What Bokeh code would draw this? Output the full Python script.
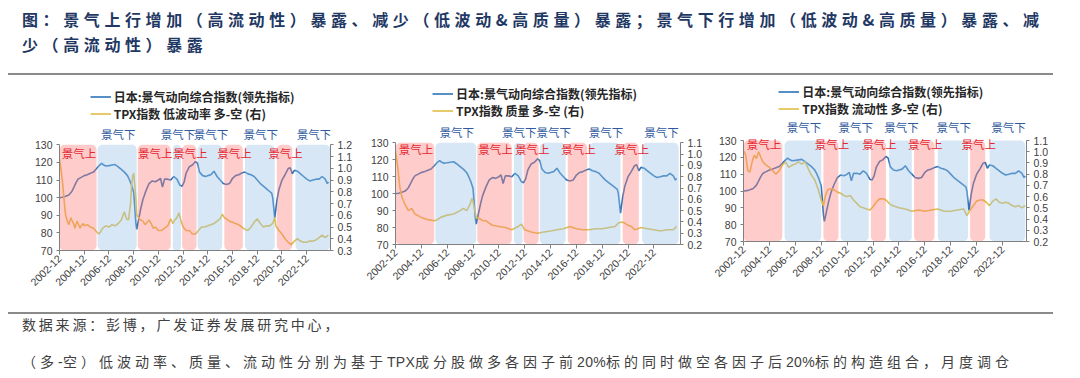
import math
import pandas as pd
from bokeh.plotting import figure
from bokeh.models import (Range1d, LinearAxis, FixedTicker, DatetimeTickFormatter,
                          NumeralTickFormatter, Legend, LegendItem, ColumnDataSource, Div)
from bokeh.layouts import column, row
from bokeh.core.properties import value
from bokeh.embed import file_html
from bokeh.resources import INLINE

# ---------------- data ----------------
lead_dates = ["2002-12","2003-03","2003-06","2003-09","2003-12","2004-02","2004-04","2004-06","2004-09","2004-12",
              "2005-03","2005-06","2005-09","2005-12","2006-03","2006-05","2006-07","2006-09","2006-12","2007-03",
              "2007-06","2007-09","2007-12","2008-03","2008-06","2008-08","2008-10","2008-12","2009-01","2009-02",
              "2009-03","2009-05","2009-07","2009-09","2009-12","2010-03","2010-06","2010-09","2010-12","2011-02",
              "2011-04","2011-06","2011-09","2011-12","2012-03","2012-06","2012-09","2012-11","2013-01","2013-03",
              "2013-06","2013-09","2013-12","2014-02","2014-04","2014-07","2014-10","2014-12","2015-03","2015-06",
              "2015-09","2015-12","2016-03","2016-06","2016-09","2016-12","2017-03","2017-06","2017-09","2017-12",
              "2018-03","2018-06","2018-09","2018-12","2019-03","2019-06","2019-09","2019-12","2020-02","2020-03",
              "2020-05","2020-07","2020-09","2020-12","2021-03","2021-06","2021-08","2021-10","2021-12","2022-03",
              "2022-06","2022-09","2022-12","2023-03","2023-06","2023-09","2023-12","2024-03","2024-06","2024-08",
              "2024-09"]
lead_vals = [100.0,100.2,100.8,101.5,103.5,106.0,108.5,110.5,111.5,112.5,
             113.0,113.8,114.5,116.5,118.5,119.5,118.5,118.0,118.2,118.5,
             118.8,117.5,116.0,114.5,112.5,110.0,107.0,103.0,95.0,86.0,
             82.0,88.0,94.0,99.0,104.0,108.0,109.5,109.0,110.0,111.0,
             106.0,110.5,110.5,110.0,112.0,110.5,107.0,106.5,109.0,114.0,
             117.5,118.5,120.5,119.5,114.5,112.5,112.0,112.5,113.0,115.0,
             112.0,110.0,108.0,107.5,108.0,111.0,112.5,113.0,114.0,114.5,
             113.5,113.0,112.0,110.0,108.0,106.5,105.0,103.5,102.5,100.0,
             88.5,98.0,104.5,110.0,113.0,116.5,117.0,113.5,115.5,115.0,
             113.5,112.0,110.5,109.5,110.0,110.5,110.5,112.0,110.5,108.0,
             109.0]

lowvol_dates = ["2002-12","2003-01","2003-03","2003-05","2003-06","2003-08","2003-09","2003-11","2003-12","2004-02",
                "2004-03","2004-05","2004-06","2004-08","2004-09","2004-11","2004-12","2005-03","2005-06","2005-09",
                "2005-12","2006-02","2006-04","2006-06","2006-09","2006-12","2007-03","2007-06","2007-09","2007-12",
                "2008-03","2008-05","2008-07","2008-09","2008-10","2008-11","2008-12","2009-02","2009-03","2009-05",
                "2009-07","2009-09","2009-11","2010-01","2010-03","2010-05","2010-07","2010-09","2010-12","2011-03",
                "2011-06","2011-09","2011-12","2012-02","2012-04","2012-06","2012-08","2012-10","2012-12","2013-03",
                "2013-06","2013-09","2013-12","2014-03","2014-06","2014-09","2014-12","2015-03","2015-06","2015-09",
                "2015-12","2016-02","2016-04","2016-06","2016-09","2016-12","2017-03","2017-06","2017-09","2017-12",
                "2018-03","2018-06","2018-09","2018-12","2019-03","2019-06","2019-09","2019-12","2020-03","2020-05",
                "2020-06","2020-09","2020-12","2021-03","2021-06","2021-09","2021-12","2022-03","2022-06","2022-09",
                "2022-12","2023-03","2023-06","2023-09","2023-12","2024-03","2024-06","2024-09"]
lowvol_vals = [1.08,1.02,0.88,0.68,0.60,0.54,0.52,0.58,0.56,0.52,
               0.49,0.55,0.53,0.49,0.51,0.53,0.51,0.52,0.50,0.49,
               0.46,0.44,0.46,0.49,0.51,0.50,0.52,0.51,0.53,0.56,
               0.63,0.57,0.56,0.70,0.86,0.93,0.96,0.75,0.60,0.58,
               0.56,0.55,0.52,0.54,0.56,0.53,0.49,0.50,0.47,0.47,
               0.49,0.51,0.57,0.53,0.56,0.58,0.62,0.55,0.50,0.47,
               0.47,0.44,0.44,0.47,0.50,0.50,0.51,0.52,0.53,0.55,
               0.57,0.61,0.58,0.57,0.55,0.54,0.53,0.52,0.50,0.48,
               0.47,0.50,0.54,0.57,0.53,0.50,0.51,0.51,0.53,0.58,
               0.51,0.47,0.44,0.40,0.37,0.35,0.38,0.40,0.38,0.37,
               0.37,0.38,0.38,0.39,0.41,0.43,0.41,0.43]

quality_dates = ["2002-12","2003-02","2003-04","2003-06","2003-09","2003-12","2004-03","2004-06","2004-12","2005-06",
                 "2005-12","2006-03","2006-06","2006-12","2007-06","2007-12","2008-03","2008-06","2008-09","2008-11",
                 "2008-12","2009-03","2009-06","2009-09","2009-12","2010-03","2010-06","2010-12","2011-06","2011-12",
                 "2012-06","2012-09","2012-12","2013-06","2013-12","2014-06","2014-12","2015-06","2015-12","2016-06",
                 "2016-12","2017-06","2017-12","2018-06","2018-12","2019-06","2019-12","2020-03","2020-06","2020-09",
                 "2020-12","2021-03","2021-06","2021-09","2021-12","2022-06","2022-12","2023-06","2023-12","2024-06",
                 "2024-09"]
quality_vals = [1.03,0.89,0.71,0.62,0.55,0.50,0.52,0.47,0.44,0.42,
                0.41,0.42,0.44,0.46,0.47,0.50,0.52,0.50,0.55,0.61,
                0.58,0.44,0.43,0.41,0.41,0.39,0.37,0.36,0.35,0.33,
                0.36,0.38,0.33,0.31,0.30,0.31,0.32,0.33,0.34,0.36,
                0.34,0.33,0.33,0.34,0.34,0.35,0.36,0.39,0.40,0.39,
                0.37,0.36,0.33,0.34,0.35,0.34,0.33,0.32,0.33,0.33,
                0.36]

liq_dates = ["2002-12","2003-02","2003-04","2003-06","2003-08","2003-10","2003-12","2004-02","2004-04","2004-06",
             "2004-09","2004-12","2005-03","2005-06","2005-09","2005-12","2006-03","2006-06","2006-09","2006-12",
             "2007-03","2007-06","2007-09","2007-12","2008-03","2008-06","2008-09","2008-12","2009-02","2009-04",
             "2009-06","2009-09","2009-12","2010-03","2010-06","2010-09","2010-12","2011-03","2011-06","2011-09",
             "2011-12","2012-03","2012-06","2012-09","2012-12","2013-03","2013-06","2013-09","2013-12","2014-03",
             "2014-06","2014-12","2015-06","2015-12","2016-06","2016-12","2017-06","2017-12","2018-06","2018-12",
             "2019-06","2019-12","2020-03","2020-06","2020-09","2020-12","2021-03","2021-06","2021-09","2021-12",
             "2022-03","2022-06","2022-09","2022-12","2023-03","2023-06","2023-09","2023-12","2024-03","2024-06",
             "2024-09"]
liq_vals = [1.01,0.97,0.83,0.82,0.91,0.97,0.94,1.00,0.95,0.91,
            0.88,0.86,0.83,0.80,0.83,0.88,0.91,0.86,0.88,0.89,
            0.91,0.89,0.91,0.85,0.79,0.75,0.67,0.57,0.52,0.61,
            0.66,0.67,0.66,0.64,0.63,0.61,0.60,0.61,0.57,0.54,
            0.51,0.50,0.49,0.48,0.51,0.55,0.58,0.58,0.57,0.54,
            0.52,0.50,0.49,0.47,0.48,0.47,0.48,0.49,0.47,0.47,
            0.48,0.49,0.43,0.48,0.52,0.56,0.57,0.57,0.55,0.52,
            0.56,0.58,0.55,0.54,0.55,0.54,0.52,0.51,0.52,0.50,
            0.52]

# regimes: 上 = expansion (red), 下 = contraction (blue)
regime_a_start = ["2002-12","2006-01","2009-04","2012-02","2012-11","2014-02","2016-04","2017-12","2020-07","2022-01"]
regime_a_end   = ["2005-12","2009-03","2011-12","2012-10","2014-01","2016-02","2017-10","2020-05","2021-10","2024-11"]
regime_a_kind  = ["上","下","上","下","上","下","上","下","上","下"]
regime_b_start = ["2002-12","2006-02","2009-02","2010-06","2012-10","2014-03","2016-02","2017-12","2020-06","2021-12"]
regime_b_end   = ["2005-12","2008-12","2010-04","2012-08","2013-12","2015-12","2017-09","2020-04","2021-08","2024-09"]
regime_b_kind  = ["上","下","上","下","上","下","上","下","上","下"]

tick_labels = ["2002-12","2004-12","2006-12","2008-12","2010-12","2012-12",
               "2014-12","2016-12","2018-12","2020-12","2022-12"]
left_ticks = [70, 80, 90, 100, 110, 120, 130]
right_ticks_a = [0.3, 0.4, 0.5, 0.6, 0.7, 0.8, 0.9, 1.0, 1.1, 1.2]
right_ticks_b = [0.2, 0.3, 0.4, 0.5, 0.6, 0.7, 0.8, 0.9, 1.0, 1.1]

lead_name = "日本:景气动向综合指数(领先指标)"
factor_names = ["TPX指数 低波动率 多-空 (右)", "TPX指数 质量 多-空 (右)", "TPX指数 流动性 多-空 (右)"]

# ---------------- styling ----------------
BLUE = "#2e75b6"
YELLOW = "#e2bf45"
RED_SHADE = "#ff8080"
BLUE_SHADE = "#9cc3e8"
FIG_TOP, FIG_BOTTOM, FRAME_TOP = 77, 307, 84
CJK = "Noto Sans CJK SC"


def to_dt(lst):
    return pd.to_datetime(lst, format="%Y-%m")


def make_panel(cfg, ydates, yvals, yname, rticks, rs, re_, rk):
    x0, w = cfg["x0"], cfg["w"]
    bl = round(cfg["fl"] - x0)
    br = round(x0 + w - cfg["fr"])
    bt = FRAME_TOP - FIG_TOP
    bb = round(FIG_BOTTOM - cfg["y70"])
    fb = FIG_BOTTOM - bb
    fh = FIG_BOTTOM - FIG_TOP - bt - bb
    fw = w - bl - br
    ppu = (fb - cfg["y130"]) / 60.0
    y_top = 70 + fh / ppu
    r_lo, r_hi = rticks[0], rticks[-1]
    r_ppu = (fb - cfg["y130"]) / (r_hi - r_lo)
    r_top = r_lo + fh / r_ppu
    start = pd.Timestamp("2002-12-01")
    end = start + pd.Timedelta(days=365.25 * fw / cfg["pxyr"])

    p = figure(frame_width=fw, frame_height=fh, x_axis_type="datetime", output_backend="svg",
               toolbar_location=None, min_border_left=bl, min_border_right=br,
               min_border_top=bt, min_border_bottom=bb, margin=0,
               x_range=Range1d(start, end), y_range=Range1d(70, y_top))
    p.outline_line_color = None
    p.grid.visible = False
    p.background_fill_color = "white"
    p.border_fill_color = "white"
    p.extra_y_ranges = {"r": Range1d(r_lo, r_top)}

    src_l = ColumnDataSource(dict(d=to_dt(lead_dates), v=lead_vals))
    src_y = ColumnDataSource(dict(d=to_dt(ydates), v=yvals))
    r_lead = p.line("d", "v", source=src_l, line_color=BLUE, line_width=1.6)
    r_fac = p.line("d", "v", source=src_y, line_color=YELLOW, line_width=1.6, y_range_name="r")

    s_dt, e_dt = to_dt(rs), to_dt(re_)
    colors = [RED_SHADE if k == "上" else BLUE_SHADE for k in rk]
    qsrc = ColumnDataSource(dict(l=s_dt, r=e_dt, b=[70] * len(rk), t=[130] * len(rk), c=colors))
    p.quad(left="l", right="r", bottom="b", top="t", source=qsrc, fill_color="c",
           fill_alpha=0.4, line_color=None, border_radius=5)

    mids = [a + (b - a) / 2 for a, b in zip(s_dt, e_dt)]
    dn_y = 70 + (fb - cfg["dn_y"]) / ppu
    up_y = 70 + (fb - cfg["up_y"]) / ppu
    tsrc = ColumnDataSource(dict(
        x=mids,
        y=[up_y if k == "上" else dn_y for k in rk],
        t=["景气" + k for k in rk],
        c=["#e5262f" if k == "上" else "#2f5a9e" for k in rk]))
    p.text(x="x", y="y", text="t", source=tsrc, text_color="c", text_align="center",
           text_baseline="middle", text_font=value(CJK), text_font_size="11.5px", x_offset=1)

    # axes
    ax_l = p.yaxis[0]
    ax_l.ticker = FixedTicker(ticks=left_ticks)
    ax_l.bounds = (70, 130)
    ax_r = LinearAxis(y_range_name="r", ticker=FixedTicker(ticks=rticks), bounds=(r_lo, r_hi),
                      formatter=NumeralTickFormatter(format="0.0"))
    p.add_layout(ax_r, "right")
    for ax in (ax_l, ax_r):
        ax.axis_line_color = "#808080"
        ax.major_tick_line_color = "#808080"
        ax.major_tick_in = 0
        ax.major_tick_out = 3
        ax.minor_tick_line_color = None
        ax.major_label_text_font = "Liberation Sans"
        ax.major_label_text_font_size = "10.5px"
        ax.major_label_text_color = "#404040"
        ax.major_label_standoff = 4
    xa = p.xaxis[0]
    xa.ticker = FixedTicker(ticks=[pd.Timestamp(t + "-01").timestamp() * 1000 for t in tick_labels])
    fmt = "%Y-%m"
    xa.formatter = DatetimeTickFormatter(microseconds=fmt, milliseconds=fmt, seconds=fmt, minsec=fmt,
                                         minutes=fmt, hourmin=fmt, hours=fmt, days=fmt, months=fmt, years=fmt)
    xa.major_label_orientation = math.pi / 4
    xa.axis_line_color = "#808080"
    xa.major_tick_line_color = "#808080"
    xa.major_tick_in = 0
    xa.major_tick_out = 4
    xa.minor_tick_line_color = None
    xa.major_label_text_font = "Liberation Sans"
    xa.major_label_text_font_size = "10.5px"
    xa.major_label_text_color = "#404040"
    xa.major_label_standoff = 2

    lh = 15
    lx = cfg["lgx"] - cfg["fl"]
    ltop = cfg["lgy"] - lh / 2
    ly = fb - (ltop + 2 * lh)
    leg = Legend(items=[LegendItem(label=lead_name, renderers=[r_lead]),
                        LegendItem(label=yname, renderers=[r_fac])],
                 location=(lx, ly), orientation="vertical", padding=0, margin=0, spacing=0,
                 glyph_width=21, glyph_height=lh, label_height=lh, label_width=200, label_standoff=3,
                 background_fill_alpha=0, border_line_alpha=0,
                 label_text_font=CJK, label_text_font_size="12px", label_text_font_style="bold",
                 label_text_color="#262626")
    p.add_layout(leg)
    return p


cfgs = [
    dict(x0=8, w=352, fl=59.3, fr=330, y130=144.3, y70=250, pxyr=12.36, lgx=90, lgy=99, dn_y=133, up_y=152),
    dict(x0=360, w=352, fl=395, fr=680, y130=142.3, y70=244.3, pxyr=12.92, lgx=432, lgy=96, dn_y=131.7, up_y=148.3),
    dict(x0=712, w=360, fl=742.7, fr=1026, y130=140, y70=240.7, pxyr=12.95, lgx=778, lgy=94, dn_y=126.7, up_y=143.3),
]

p1 = make_panel(cfgs[0], lowvol_dates, lowvol_vals, factor_names[0], right_ticks_a,
                regime_a_start, regime_a_end, regime_a_kind)
p2 = make_panel(cfgs[1], quality_dates, quality_vals, factor_names[1], right_ticks_b,
                regime_a_start, regime_a_end, regime_a_kind)
p3 = make_panel(cfgs[2], liq_dates, liq_vals, factor_names[2], right_ticks_b,
                regime_b_start, regime_b_end, regime_b_kind)

title_html = (
    '<div style="width:1045px;height:67px;border-bottom:2px solid #8a8a8a;overflow:hidden;">'
    '<div style="position:relative;top:-1.5px;padding-left:14px;font-family:\'Noto Sans CJK SC\';'
    'font-weight:bold;font-size:16px;letter-spacing:4.6px;line-height:25px;color:#1f3864;white-space:nowrap;">'
    '图：景气上行增加（高流动性）暴露、减少（低波动&amp;高质量）暴露；景气下行增加（低波动&amp;高质量）暴露、减<br>'
    '少（高流动性）暴露</div></div>'
)
lat = '<span style="letter-spacing:0.3px;">'
foot_html = (
    '<div style="width:1045px;height:0;border-top:2px solid #8a8a8a;margin-top:5px;"></div>'
    '<div style="font-family:\'Liberation Sans\',\'Noto Sans CJK SC\';font-size:14px;'
    'color:#404040;white-space:nowrap;padding-left:14px;">'
    '<div style="line-height:20px;margin-top:1px;letter-spacing:2.8px;">数据来源：彭博，广发证券发展研究中心，</div>'
    '<div style="line-height:16px;margin-top:19px;letter-spacing:4px;">（多' + lat + '-</span>空）低波动率、质量、流动性分别为基于'
    + lat + 'TPX</span>成分股做多各因子前' + lat + '20%</span>标的同时做空各因子后' + lat + '20%</span>标的构造组合，月度调仓</div>'
    '</div>'
)
title_div = Div(text=title_html, width=1064, height=69, margin=0)
foot_div = Div(text=foot_html, width=1064, height=63, margin=0)

layout = column(title_div, row(p1, p2, p3, margin=0, spacing=0), foot_div,
                margin=(8, 0, 0, 8), spacing=0)
open("out.html", "w").write(file_html(layout, INLINE))
